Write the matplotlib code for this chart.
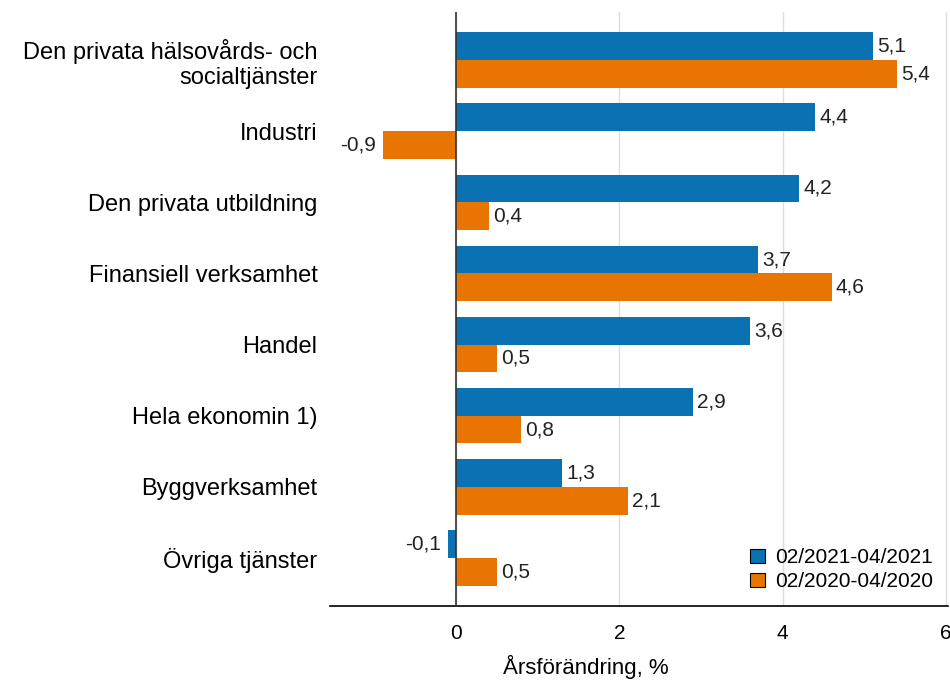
import numpy as np
import matplotlib.pyplot as plt

plt.rcParams['font.family'] = ['Liberation Sans', 'DejaVu Sans']

categories = ['Den privata hälsovårds- och\nsocialtjänster', 'Industri', 'Den privata utbildning',
              'Finansiell verksamhet', 'Handel', 'Hela ekonomin 1)', 'Byggverksamhet', 'Övriga tjänster']
series_2021 = [5.1, 4.4, 4.2, 3.7, 3.6, 2.9, 1.3, -0.1]
series_2020 = [5.4, -0.9, 0.4, 4.6, 0.5, 0.8, 2.1, 0.5]
series_names = ['02/2021-04/2021', '02/2020-04/2020']
x_ticks = [0, 2, 4, 6]

blue = '#0a71b3'
orange = '#e87502'

fig = plt.figure(figsize=(9.5, 6.85), dpi=100)
ax = fig.add_axes([330 / 950, 79 / 685, 618 / 950, 594 / 685])

y = np.arange(len(categories))
h = 0.39
b1 = ax.barh(y - h / 2, series_2021, height=h, color=blue, label=series_names[0], zorder=3)
b2 = ax.barh(y + h / 2, series_2020, height=h, color=orange, label=series_names[1], zorder=3)

for bars, vals in [(b1, series_2021), (b2, series_2020)]:
    for bar, v in zip(bars, vals):
        yc = bar.get_y() + bar.get_height() / 2
        txt = f'{v:.1f}'.replace('.', ',')
        if v >= 0:
            ax.annotate(txt, (v, yc), xytext=(3, 0), textcoords='offset points',
                        ha='left', va='center', fontsize=15, color='#222222')
        else:
            ax.annotate(txt, (v, yc), xytext=(-5, 0), textcoords='offset points',
                        ha='right', va='center', fontsize=15, color='#222222')

ax.set_xlim(-1.543, 6.024)
ax.set_ylim(len(categories) - 0.325, -0.675)
ax.set_yticks(y)
ax.set_yticklabels(categories, fontsize=17, linespacing=1.15)
ax.set_xticks(x_ticks)
ax.set_xticklabels([str(t) for t in x_ticks], fontsize=15)
ax.tick_params(axis='both', length=0)
ax.tick_params(axis='x', pad=13)
ax.tick_params(axis='y', pad=9)

for s in ['top', 'right', 'left']:
    ax.spines[s].set_visible(False)
ax.spines['bottom'].set_color('#000000')
ax.spines['bottom'].set_linewidth(1.2)

ax.grid(axis='x', color='#dddddd', linewidth=1.0, zorder=0)
ax.axvline(0, color='#333333', linewidth=1.2, zorder=4)

ax.set_xlabel('Årsförändring, %', fontsize=16)
ax.xaxis.set_label_coords(0.414, -0.082)

leg = ax.legend(loc='lower right', bbox_to_anchor=(1.0, 0.0), frameon=False, fontsize=15,
                handlelength=0.7, handleheight=0.7, handletextpad=0.5, labelspacing=0.25,
                borderaxespad=0.3)
for p in leg.get_patches():
    p.set_edgecolor('#000000')
    p.set_linewidth(0.8)

fig.savefig('out.png', dpi=100)
